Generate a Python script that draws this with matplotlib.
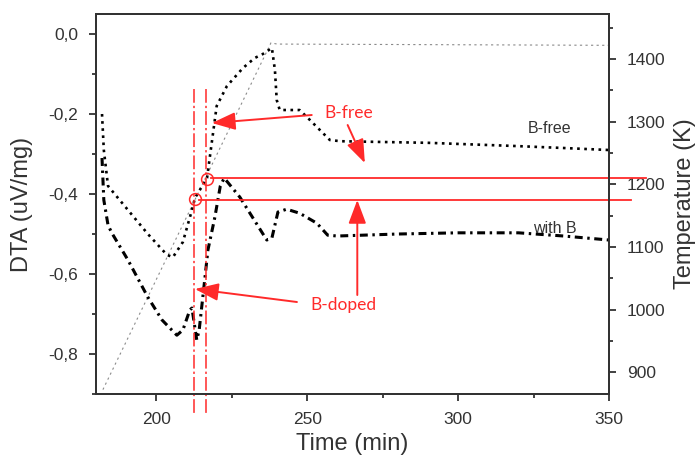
"""
DTA curves (B-free / with B) with furnace temperature on a twin axis.
"""

import matplotlib
matplotlib.use("Agg")
import matplotlib.pyplot as plt
from matplotlib.ticker import FuncFormatter, MultipleLocator

# ── data ──────────────────────────────────────────────────────────────
t_free = [182.0, 182.6, 184.0, 190.6, 197.2, 203.5, 205.5, 208.8, 211.8, 212.8,
          216.8, 220.0, 223.4, 228.7, 232.6, 235.3, 238.3, 239.3, 239.9, 240.9,
          247.5, 250.9, 257.5, 261.0, 290.0, 319.0, 335.0, 350.0]
dta_free = [-0.20, -0.29, -0.38, -0.44, -0.50, -0.552, -0.558, -0.52, -0.44, -0.41,
            -0.36, -0.18, -0.13, -0.085, -0.06, -0.05, -0.035, -0.09, -0.165, -0.19,
            -0.19, -0.215, -0.265, -0.268, -0.272, -0.28, -0.285, -0.29]

t_withb = [182.0, 182.6, 184.0, 185.3, 190.6, 197.2, 201.9, 206.8, 208.8, 211.1,
           211.8, 213.4, 214.2, 216.1, 217.1, 219.4, 221.2, 222.5, 227.7, 236.6,
           238.3, 240.3, 243.2, 247.5, 253.2, 256.8, 260.0, 280.0, 300.0, 320.0,
           335.0, 350.0]
dta_withb = [-0.31, -0.415, -0.478, -0.498, -0.565, -0.658, -0.715, -0.753, -0.74, -0.69,
             -0.685, -0.765, -0.74, -0.61, -0.54, -0.458, -0.38, -0.36, -0.408, -0.515,
             -0.51, -0.445, -0.438, -0.448, -0.473, -0.503, -0.505, -0.50, -0.497, -0.497,
             -0.505, -0.515]

t_temp = [182.3, 238.0, 240.0, 350.0]
temp_k = [872, 1426, 1424, 1422]

# onset markers (time, DTA) and the red construction lines
onset_t = [212.8, 216.8]
onset_dta = [-0.4125, -0.3625]
vline_t = [212.45, 216.4]

RED = "#ff2a2a"
INK = "#333333"

plt.rcParams["font.family"] = ["Liberation Sans", "DejaVu Sans"]

fig = plt.figure(figsize=(6.99, 4.61), dpi=100)
ax = fig.add_axes([0.1373, 0.1453, 0.7339, 0.8243])
ax2 = ax.twinx()
ax.set_zorder(ax2.get_zorder() + 1)
ax.patch.set_visible(False)

# ── curves ───────────────────────────────────────────────────────────
ax2.plot(t_temp, temp_k, color="#8a8a8a", lw=0.8, linestyle=(0, (2, 3)))
ax.plot(t_free, dta_free, color="black", lw=1.9, linestyle=(0, (1, 1.7)))
ax.plot(t_withb, dta_withb, color="black", lw=2.2, linestyle=(0, (2.6, 1.5, 0.8, 1.5)))

# ── red construction ────────────────────────────────────────────────
for x in vline_t:
    ax.plot([x, x], [-0.1375, -0.9525], color=RED, lw=1.1,
            linestyle=(0, (9, 2, 1.5, 2)), clip_on=False)
ax.plot(onset_t, onset_dta, "o", ms=8.5, mfc="none", mec=RED, mew=1.1)
ax.plot([onset_t[1] + 1.2, 362.4], [-0.36, -0.36], color=RED, lw=1.3, clip_on=False)
ax.plot([onset_t[0] + 1.2, 357.2], [-0.415, -0.415], color=RED, lw=1.3, clip_on=False)

arrow = dict(arrowstyle="-|>,head_length=0.8,head_width=0.3", color=RED,
             lw=1.4, mutation_scale=18, shrinkA=0, shrinkB=0)
ax.annotate("", xy=(218.4, -0.2225), xytext=(251.5, -0.2025), arrowprops=arrow)
ax.annotate("", xy=(269.1, -0.3225), xytext=(263.4, -0.2275), arrowprops=arrow)
ax.annotate("", xy=(212.8, -0.6375), xytext=(246.6, -0.67), arrowprops=arrow)
ax.annotate("", xy=(266.6, -0.415), xytext=(266.6, -0.6525), arrowprops=arrow)
ax.text(263.8, -0.1975, "B-free", color=RED, fontsize=12.5, family="Lato",
        ha="center", va="center")
ax.text(262.1, -0.6775, "B-doped", color=RED, fontsize=12.5, family="Lato",
        ha="center", va="center")

ax.text(330.3, -0.235, "B-free", color=INK, fontsize=11.5, ha="center", va="center")
ax.text(332.0, -0.485, "with B", color=INK, fontsize=11.5, ha="center", va="center")

# ── axes styling ─────────────────────────────────────────────────────
ax.set_xlim(180, 350)
ax.set_ylim(-0.9, 0.05)
ax2.set_ylim(865, 1472)

ax.xaxis.set_major_locator(MultipleLocator(50))
ax.xaxis.set_minor_locator(MultipleLocator(25))
ax.yaxis.set_major_locator(MultipleLocator(0.2))
ax.yaxis.set_minor_locator(MultipleLocator(0.1))
ax2.yaxis.set_major_locator(MultipleLocator(100))
ax2.yaxis.set_minor_locator(MultipleLocator(50))
ax.yaxis.set_major_formatter(
    FuncFormatter(lambda v, _: f"{v:.1f}".replace(".", ",").replace("-0,0", "0,0")))

for a in (ax, ax2):
    for s in a.spines.values():
        s.set_color(INK)
        s.set_linewidth(1.4)
    a.tick_params(which="both", direction="out", colors=INK, width=1.3,
                  labelsize=12.5, labelcolor=INK, pad=8)
    a.tick_params(which="major", length=5)
    a.tick_params(which="minor", length=3)

ax.set_xlabel("Time (min)", fontsize=17, color=INK, labelpad=4)
ax.set_ylabel("DTA (uV/mg)", fontsize=17, color=INK, labelpad=11)
ax2.set_ylabel("Temperature (K)", fontsize=17, color=INK, labelpad=6)

fig.savefig("out.png", dpi=100)
